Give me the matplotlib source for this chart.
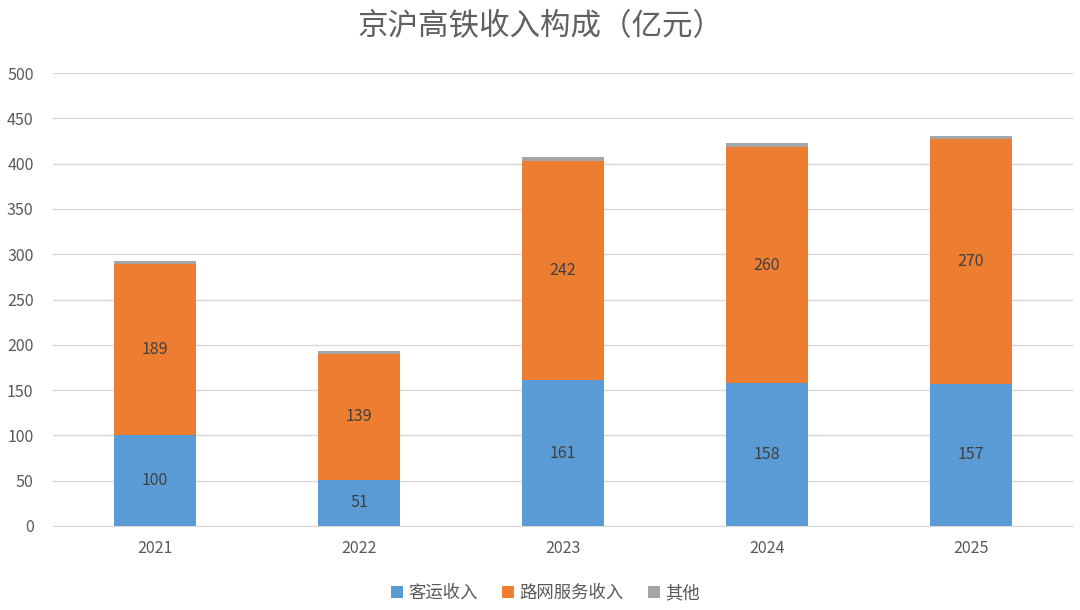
import matplotlib
matplotlib.use("Agg")
import matplotlib.pyplot as plt
import numpy as np

plt.rcParams['font.family'] = ['Noto Sans CJK SC', 'DejaVu Sans']

years = ["2021", "2022", "2023", "2024", "2025"]
passenger = [100, 51, 161, 158, 157]
network = [189, 139, 242, 260, 270]
other = [4, 3, 4, 5, 4]
series_names = ["客运收入", "路网服务收入", "其他"]
colors = ["#5B9BD5", "#ED7D31", "#A5A5A5"]
title = "京沪高铁收入构成（亿元）"

fig = plt.figure(figsize=(10.8, 6.1), dpi=100)
ax = fig.add_axes([53/1080, 1-526/610, 1020/1080, (526-73)/610])

x = np.arange(len(years))
w = 0.4
b1 = ax.bar(x, passenger, w, color=colors[0], label=series_names[0], zorder=3)
b2 = ax.bar(x, network, w, bottom=passenger, color=colors[1], label=series_names[1], zorder=3)
bottom3 = np.array(passenger) + np.array(network)
b3 = ax.bar(x, other, w, bottom=bottom3, color=colors[2], label=series_names[2], zorder=3)

ax.bar_label(b1, labels=[str(v) for v in passenger], label_type='center', fontsize=11.5, color='#404040')
ax.bar_label(b2, labels=[str(v) for v in network], label_type='center', fontsize=11.5, color='#404040')

ax.set_xlim(-0.5, len(years) - 0.5)
ax.set_ylim(0, 500)
ax.set_yticks(np.arange(0, 501, 50))
ax.set_xticks(x)
ax.set_xticklabels(years)
ax.tick_params(axis='both', colors='#595959', labelsize=11.5, length=0)
ax.tick_params(axis='y', pad=14)
ax.tick_params(axis='x', pad=10)
ax.grid(axis='y', color='#D9D9D9', linewidth=1, zorder=0)
for s in ['top', 'right', 'left']:
    ax.spines[s].set_visible(False)
ax.spines['bottom'].set_color('#D9D9D9')
ax.spines['bottom'].set_zorder(4)

fig.text(0.5, 1-27/610, title, ha='center', va='center', fontsize=22, color='#606060')

leg = fig.legend(handles=[b1, b2, b3], labels=series_names, loc='center', bbox_to_anchor=(0.505, 1-593/610),
                 ncol=3, frameon=False, fontsize=12.5, handlelength=0.7, handleheight=0.7,
                 handletextpad=0.3, columnspacing=1.4)
for t in leg.get_texts():
    t.set_color('#595959')

fig.savefig("out.png", dpi=100)
